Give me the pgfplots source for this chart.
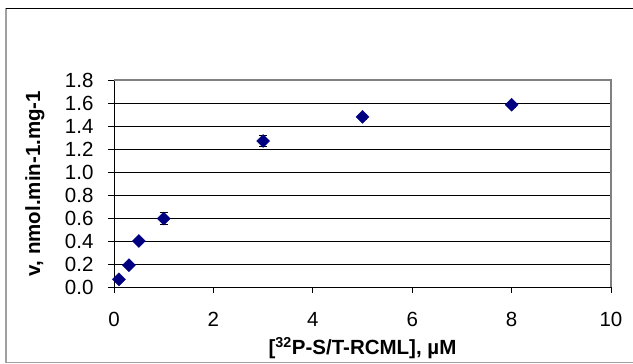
\documentclass[border=0pt]{standalone}
\usepackage{pgfplots}
\pgfplotsset{compat=1.18}
\usepackage{fontspec}
\setmainfont{Liberation Sans}
\definecolor{navy}{HTML}{000080}
\definecolor{framegray}{HTML}{A0A0A0}
\definecolor{plotgray}{HTML}{808080}
\begin{document}
\begin{tikzpicture}[x=1pt,y=1pt]
\path[use as bounding box] (0,0) rectangle (633,364);
\draw[framegray, line width=1.5pt] (6,356) -- (6,1.5) -- (633,1.5);
\draw[black, line width=0.8pt] (6,356) -- (633,356);
\begin{axis}[
  at={(114pt,77pt)}, anchor=south west,
  scale only axis, width=497pt, height=207pt,
  xmin=0, xmax=10, ymin=0, ymax=1.8,
  xtick={0,2,4,6,8,10},
  ytick={0,0.2,0.4,0.6,0.8,1.0,1.2,1.4,1.6,1.8},
  axis lines=left,
  axis line style={-, black, line width=0.8pt},
  tick align=outside,
  major tick length=6pt,
  tick style={black, line width=0.8pt},
  ymajorgrids,
  grid style={black, line width=0.8pt},
  /pgf/number format/assume math mode=true,
  ticklabel style={font=\fontsize{20.5}{24}\selectfont},
  yticklabel style={/pgf/number format/fixed, /pgf/number format/fixed zerofill, /pgf/number format/precision=1, xshift=-11pt},
  xticklabel style={yshift=-16pt},
  xlabel={\textbf{[\textsuperscript{32}P-S/T-RCML], µM}},
  ylabel={\textbf{v, nmol.min-1.mg-1}},
  label style={font=\fontsize{20.5}{24}\selectfont},
  xlabel style={at={(axis description cs:0.5,-0.295)}, anchor=center},
  ylabel style={at={(axis description cs:-0.159,0.5)}, anchor=center},
  clip=false,
]
\draw[plotgray, line width=1.6pt] (rel axis cs:0,1) -- (rel axis cs:1,1) -- (rel axis cs:1,0);
\addplot[only marks, mark=square*, mark size=4.6pt,
  mark options={rotate=45, fill=navy, draw=navy},
  error bars/.cd, y dir=both, y explicit,
  error bar style={black, line width=0.8pt},
  error mark options={rotate=90, mark size=4pt, black, line width=0.8pt}]
  coordinates {
  (0.1,0.067) +- (0,0.02)
  (0.3,0.19) +- (0,0.02)
  (0.5,0.40) +- (0,0.02)
  (1,0.595) +- (0,0.05)
  (3,1.27) +- (0,0.05)
  (5,1.48) +- (0,0.02)
  (8,1.585) +- (0,0.02)
  };
\end{axis}
\end{tikzpicture}
\end{document}
